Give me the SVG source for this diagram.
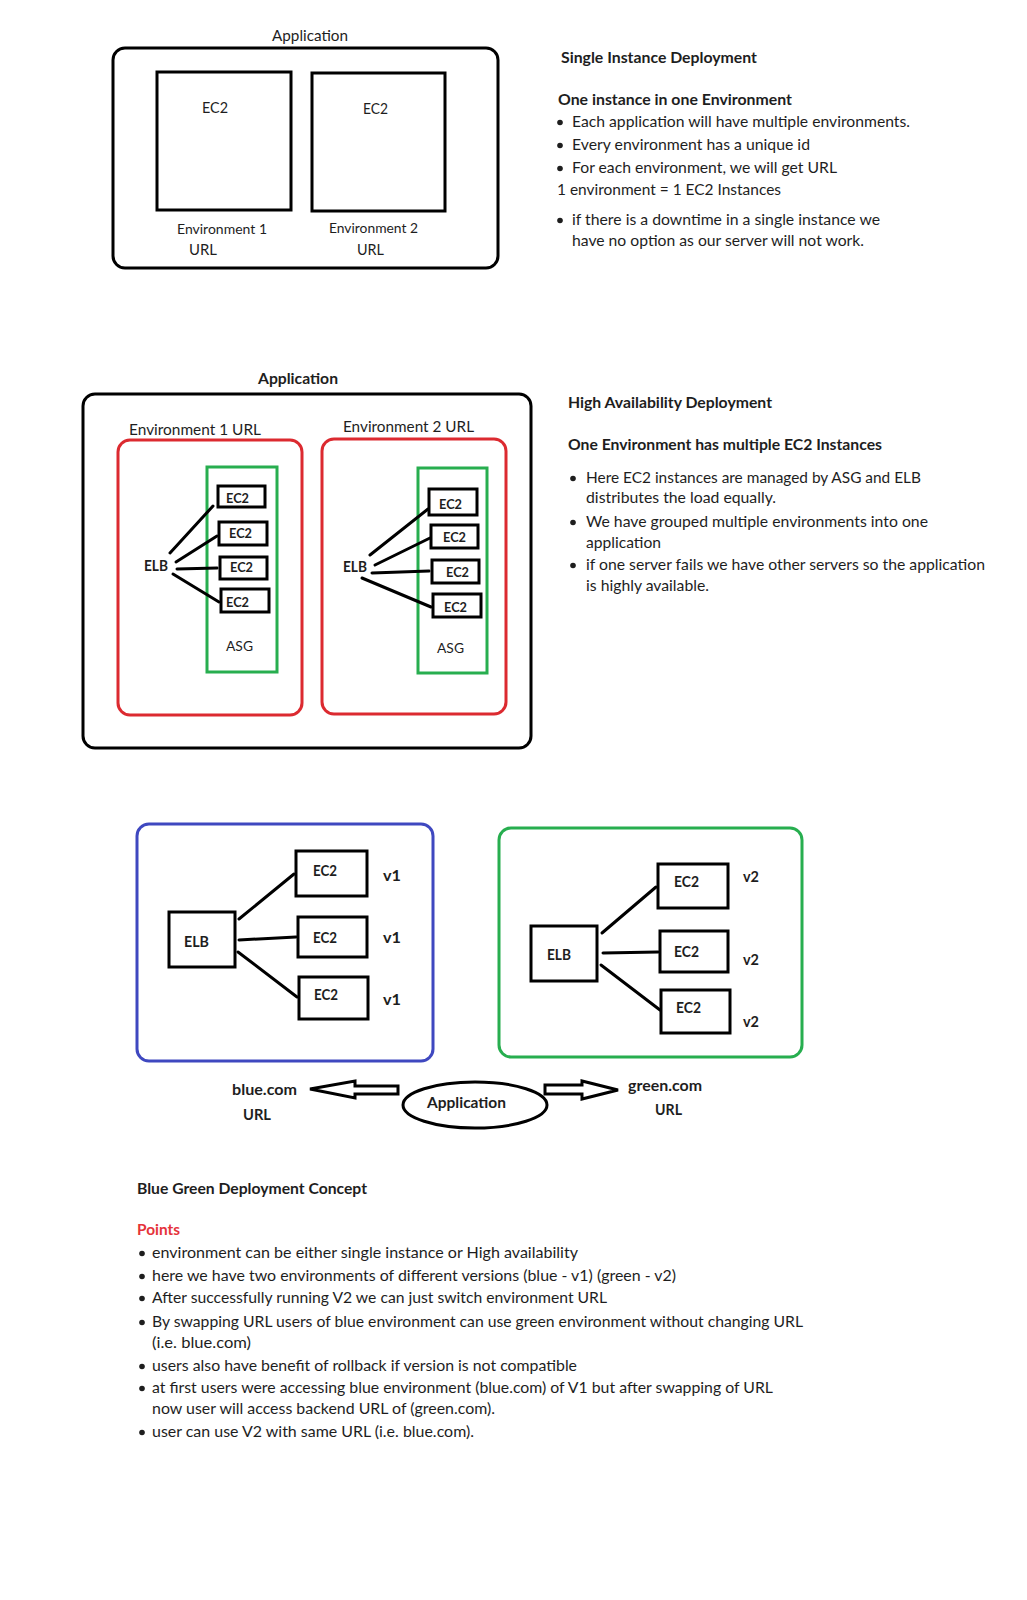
<svg xmlns="http://www.w3.org/2000/svg" width="1027" height="1600" viewBox="0 0 1027 1600">
<style>
text{font-family:Lato,"Liberation Sans",sans-serif;fill:#1e1e1e}
.r{font-size:15px}
.s{font-size:14px}
.b{font-size:15px;font-weight:bold}
.bs{font-size:13px;font-weight:bold}
.box{fill:none;stroke:#000;stroke-width:3}
.k{fill:none;stroke:#000;stroke-width:3;stroke-linecap:round}
.red{fill:none;stroke:#dc2a30;stroke-width:3}
.grn{fill:none;stroke:#27ae4f;stroke-width:3}
.blu{fill:none;stroke:#3f48c0;stroke-width:3}
.dot{fill:#1e1e1e}
</style>
<rect width="1027" height="1600" fill="#fff"/>

<!-- Section 1 -->
<g id="app1">
<text class="r" x="272" y="41" textLength="76" lengthAdjust="spacingAndGlyphs">Application</text>
<rect class="box" x="113" y="48" width="385" height="220" rx="12"/>
</g>
<g id="env1-ec2">
<rect class="box" x="157" y="72" width="134" height="138"/>
<text class="r" x="202" y="113" textLength="26" lengthAdjust="spacingAndGlyphs" style="font-size:16px">EC2</text>
<text class="s" x="177" y="234" textLength="90" lengthAdjust="spacingAndGlyphs">Environment 1</text>
<text class="r" x="189" y="255" textLength="28" lengthAdjust="spacingAndGlyphs">URL</text>
</g>
<g id="env2-ec2">
<rect class="box" x="312" y="73" width="133" height="138"/>
<text class="r" x="363" y="114" textLength="25" lengthAdjust="spacingAndGlyphs" style="font-size:16px">EC2</text>
<text class="s" x="329" y="233" textLength="89" lengthAdjust="spacingAndGlyphs">Environment 2</text>
<text class="r" x="357" y="255" textLength="27" lengthAdjust="spacingAndGlyphs">URL</text>
</g>
<g id="notes1">
<text class="b" x="561" y="63" textLength="196" lengthAdjust="spacingAndGlyphs">Single Instance Deployment</text>
<text class="b" x="558" y="105" textLength="234" lengthAdjust="spacingAndGlyphs">One instance in one Environment</text>
<circle class="dot" cx="560" cy="122.5" r="2.8"/>
<text class="r" x="572" y="127" textLength="338" lengthAdjust="spacingAndGlyphs">Each application will have multiple environments.</text>
<circle class="dot" cx="560" cy="145.5" r="2.8"/>
<text class="r" x="572" y="150" textLength="238" lengthAdjust="spacingAndGlyphs">Every environment has a unique id</text>
<circle class="dot" cx="560" cy="168.5" r="2.8"/>
<text class="r" x="572" y="173" textLength="265" lengthAdjust="spacingAndGlyphs">For each environment, we will get URL</text>
<text class="r" x="557" y="195" textLength="224" lengthAdjust="spacingAndGlyphs">1 environment = 1 EC2 Instances</text>
<circle class="dot" cx="560" cy="220.5" r="2.8"/>
<text class="r" x="572" y="225" textLength="308" lengthAdjust="spacingAndGlyphs">if there is a downtime in a single instance we</text>
<text class="r" x="572" y="246" textLength="292" lengthAdjust="spacingAndGlyphs">have no option as our server will not work.</text>
</g>

<!-- Section 2 -->
<g id="app2">
<text class="b" x="258" y="384" textLength="80" lengthAdjust="spacingAndGlyphs">Application</text>
<rect class="box" x="83" y="394" width="448" height="354" rx="12"/>
</g>
<g id="env1">
<text class="r" x="129" y="435" textLength="132" lengthAdjust="spacingAndGlyphs">Environment 1 URL</text>
<rect class="red" x="118" y="440" width="184" height="275" rx="12"/>
</g>
<g id="asg1">
<rect class="grn" x="207" y="467" width="70" height="205"/>
<text class="s" x="226" y="651" textLength="27" lengthAdjust="spacingAndGlyphs">ASG</text>
</g>
<g id="elb1"><text class="b" x="144" y="571" textLength="24" lengthAdjust="spacingAndGlyphs">ELB</text></g>
<g id="ec2-1a"><rect class="box" x="218" y="486" width="47" height="21"/><text class="bs" x="226" y="503" textLength="23" lengthAdjust="spacingAndGlyphs">EC2</text></g>
<g id="ec2-1b"><rect class="box" x="219" y="522" width="48" height="23"/><text class="bs" x="229" y="538" textLength="23" lengthAdjust="spacingAndGlyphs">EC2</text></g>
<g id="ec2-1c"><rect class="box" x="220" y="557" width="47" height="22"/><text class="bs" x="230" y="572" textLength="23" lengthAdjust="spacingAndGlyphs">EC2</text></g>
<g id="ec2-1d"><rect class="box" x="221" y="589" width="48" height="23"/><text class="bs" x="226" y="607" textLength="23" lengthAdjust="spacingAndGlyphs">EC2</text></g>

<g id="env2">
<text class="r" x="343" y="432" textLength="131" lengthAdjust="spacingAndGlyphs">Environment 2 URL</text>
<rect class="red" x="322" y="439" width="184" height="275" rx="12"/>
</g>
<g id="asg2">
<rect class="grn" x="418" y="468" width="69" height="205"/>
<text class="s" x="437" y="653" textLength="27" lengthAdjust="spacingAndGlyphs">ASG</text>
</g>
<g id="elb2"><text class="b" x="343" y="572" textLength="24" lengthAdjust="spacingAndGlyphs">ELB</text></g>
<g id="ec2-2a"><rect class="box" x="429" y="489" width="48" height="26"/><text class="bs" x="439" y="509" textLength="23" lengthAdjust="spacingAndGlyphs">EC2</text></g>
<g id="ec2-2b"><rect class="box" x="431" y="525" width="47" height="23"/><text class="bs" x="443" y="542" textLength="23" lengthAdjust="spacingAndGlyphs">EC2</text></g>
<g id="ec2-2c"><rect class="box" x="432" y="560" width="47" height="23"/><text class="bs" x="446" y="577" textLength="23" lengthAdjust="spacingAndGlyphs">EC2</text></g>
<g id="ec2-2d"><rect class="box" x="433" y="594" width="48" height="23"/><text class="bs" x="444" y="612" textLength="23" lengthAdjust="spacingAndGlyphs">EC2</text></g>

<g id="notes2">
<text class="b" x="568" y="408" textLength="204" lengthAdjust="spacingAndGlyphs">High Availability Deployment</text>
<text class="b" x="568" y="450" textLength="314" lengthAdjust="spacingAndGlyphs">One Environment has multiple EC2 Instances</text>
<circle class="dot" cx="573" cy="478.5" r="2.8"/>
<text class="r" x="586" y="483" textLength="335" lengthAdjust="spacingAndGlyphs">Here EC2 instances are managed by ASG and ELB</text>
<text class="r" x="586" y="503" textLength="190" lengthAdjust="spacingAndGlyphs">distributes the load equally.</text>
<circle class="dot" cx="573" cy="522.5" r="2.8"/>
<text class="r" x="586" y="527" textLength="342" lengthAdjust="spacingAndGlyphs">We have grouped multiple environments into one</text>
<text class="r" x="586" y="548" textLength="75" lengthAdjust="spacingAndGlyphs">application</text>
<circle class="dot" cx="573" cy="565.5" r="2.8"/>
<text class="r" x="586" y="570" textLength="399" lengthAdjust="spacingAndGlyphs">if one server fails we have other servers so the application</text>
<text class="r" x="586" y="591" textLength="123" lengthAdjust="spacingAndGlyphs">is highly available.</text>
</g>

<!-- Section 3 -->
<g id="blue-env">
<rect class="blu" x="137" y="824" width="296" height="237" rx="12"/>
</g>
<g id="blue-elb"><rect class="box" x="169" y="912" width="66" height="55"/><text class="b" x="184" y="947" textLength="25" lengthAdjust="spacingAndGlyphs">ELB</text></g>
<g id="blue-ec2a"><rect class="box" x="296" y="851" width="71" height="45"/><text class="b" x="313" y="876" textLength="24" lengthAdjust="spacingAndGlyphs">EC2</text><text class="b" x="383" y="881" textLength="18" lengthAdjust="spacingAndGlyphs">v1</text></g>
<g id="blue-ec2b"><rect class="box" x="298" y="917" width="69" height="40"/><text class="b" x="313" y="943" textLength="24" lengthAdjust="spacingAndGlyphs">EC2</text><text class="b" x="383" y="943" textLength="18" lengthAdjust="spacingAndGlyphs">v1</text></g>
<g id="blue-ec2c"><rect class="box" x="299" y="977" width="69" height="42"/><text class="b" x="314" y="1000" textLength="24" lengthAdjust="spacingAndGlyphs">EC2</text><text class="b" x="383" y="1005" textLength="18" lengthAdjust="spacingAndGlyphs">v1</text></g>

<g id="green-env">
<rect class="grn" x="499" y="828" width="303" height="229" rx="12"/>
</g>
<g id="green-elb"><rect class="box" x="531" y="926" width="66" height="55"/><text class="b" x="547" y="960" textLength="24" lengthAdjust="spacingAndGlyphs">ELB</text></g>
<g id="green-ec2a"><rect class="box" x="658" y="864" width="70" height="44"/><text class="b" x="674" y="887" textLength="25" lengthAdjust="spacingAndGlyphs">EC2</text><text class="b" x="743" y="882" textLength="16" lengthAdjust="spacingAndGlyphs">v2</text></g>
<g id="green-ec2b"><rect class="box" x="660" y="931" width="68" height="41"/><text class="b" x="674" y="957" textLength="25" lengthAdjust="spacingAndGlyphs">EC2</text><text class="b" x="743" y="965" textLength="16" lengthAdjust="spacingAndGlyphs">v2</text></g>
<g id="green-ec2c"><rect class="box" x="661" y="990" width="69" height="43"/><text class="b" x="676" y="1013" textLength="25" lengthAdjust="spacingAndGlyphs">EC2</text><text class="b" x="743" y="1027" textLength="16" lengthAdjust="spacingAndGlyphs">v2</text></g>

<g id="application">
<ellipse class="box" cx="475" cy="1105" rx="72" ry="23"/>
<text class="b" x="427" y="1108" textLength="79" lengthAdjust="spacingAndGlyphs">Application</text>
</g>
<g id="blue-url">
<text class="b" x="232" y="1095" textLength="65" lengthAdjust="spacingAndGlyphs">blue.com</text>
<text class="b" x="243" y="1120" textLength="28" lengthAdjust="spacingAndGlyphs">URL</text>
</g>
<g id="green-url">
<text class="b" x="628" y="1091" textLength="74" lengthAdjust="spacingAndGlyphs">green.com</text>
<text class="b" x="655" y="1115" textLength="27" lengthAdjust="spacingAndGlyphs">URL</text>
</g>

<g id="connectors">
<line class="k" x1="170" y1="553" x2="213" y2="506"/>
<line class="k" x1="176" y1="562" x2="217" y2="536"/>
<line class="k" x1="177" y1="569" x2="217" y2="568"/>
<line class="k" x1="173" y1="574" x2="219" y2="602"/>
<line class="k" x1="370" y1="555" x2="428" y2="509"/>
<line class="k" x1="375" y1="565" x2="430" y2="538"/>
<line class="k" x1="372" y1="573" x2="429" y2="571"/>
<line class="k" x1="362" y1="578" x2="431" y2="607"/>
<line class="k" x1="239" y1="919" x2="294" y2="874"/>
<line class="k" x1="239" y1="940" x2="296" y2="937"/>
<line class="k" x1="238" y1="952" x2="297" y2="997"/>
<line class="k" x1="602" y1="933" x2="656" y2="887"/>
<line class="k" x1="603" y1="953" x2="658" y2="952"/>
<line class="k" x1="601" y1="965" x2="660" y2="1010"/>
<polygon points="310,1089 355,1081 355,1086 398,1086 398,1094 355,1094 355,1098" fill="#fff" stroke="#000" stroke-width="3" stroke-linejoin="miter"/>
<polygon points="618,1090 582,1081 582,1085 545,1085 545,1094 582,1094 582,1099" fill="#fff" stroke="#000" stroke-width="3" stroke-linejoin="miter"/>
</g>

<g id="notes3">
<text class="b" x="137" y="1194" textLength="230" lengthAdjust="spacingAndGlyphs">Blue Green Deployment Concept</text>
<text class="b" x="137" y="1235" textLength="43" lengthAdjust="spacingAndGlyphs" style="fill:#e5333a">Points</text>
<circle class="dot" cx="142" cy="1253.5" r="2.8"/>
<text class="r" x="152" y="1258" textLength="426" lengthAdjust="spacingAndGlyphs">environment can be either single instance or High availability</text>
<circle class="dot" cx="142" cy="1276.5" r="2.8"/>
<text class="r" x="152" y="1281" textLength="524" lengthAdjust="spacingAndGlyphs">here we have two environments of different versions (blue - v1) (green - v2)</text>
<circle class="dot" cx="142" cy="1298.5" r="2.8"/>
<text class="r" x="152" y="1303" textLength="455" lengthAdjust="spacingAndGlyphs">After successfully running V2 we can just switch environment URL</text>
<circle class="dot" cx="142" cy="1322.5" r="2.8"/>
<text class="r" x="152" y="1327" textLength="651" lengthAdjust="spacingAndGlyphs">By swapping URL users of blue environment can use green environment without changing URL</text>
<text class="r" x="152" y="1348" textLength="99" lengthAdjust="spacingAndGlyphs">(i.e. blue.com)</text>
<circle class="dot" cx="142" cy="1366.5" r="2.8"/>
<text class="r" x="152" y="1371" textLength="425" lengthAdjust="spacingAndGlyphs">users also have benefit of rollback if version is not compatible</text>
<circle class="dot" cx="142" cy="1388.5" r="2.8"/>
<text class="r" x="152" y="1393" textLength="621" lengthAdjust="spacingAndGlyphs">at first users were accessing blue environment (blue.com) of V1 but after swapping of URL</text>
<text class="r" x="152" y="1414" textLength="343" lengthAdjust="spacingAndGlyphs">now user will access backend URL of (green.com).</text>
<circle class="dot" cx="142" cy="1432.5" r="2.8"/>
<text class="r" x="152" y="1437" textLength="322" lengthAdjust="spacingAndGlyphs">user can use V2 with same URL (i.e. blue.com).</text>
</g>
</svg>
